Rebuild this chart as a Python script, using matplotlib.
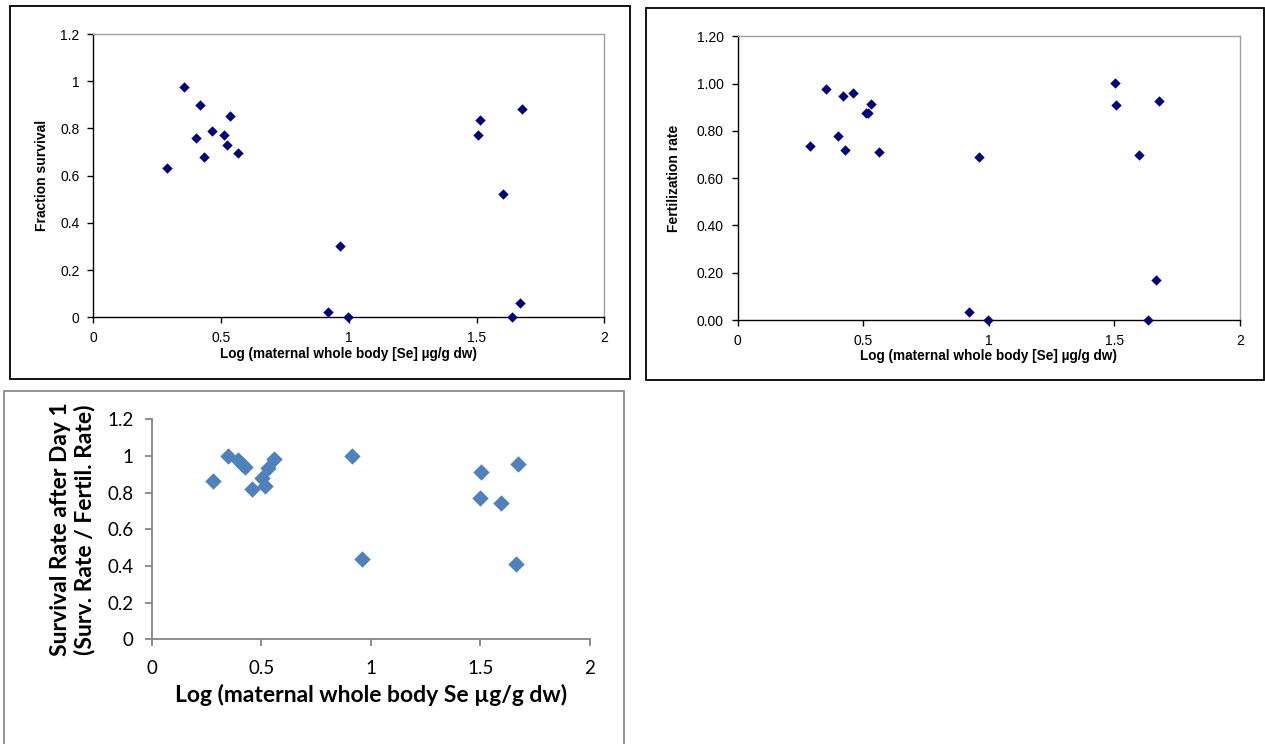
import matplotlib
matplotlib.use("Agg")
import matplotlib.pyplot as plt
from matplotlib.patches import Rectangle
from matplotlib.ticker import FixedLocator

W, H = 1265, 744

# ---- data: panel 1 (fraction survival) ----
surv_x = [0.354, 0.419, 0.536, 0.464, 0.510, 0.403, 0.524, 0.566, 0.434, 0.287,
          0.964, 0.920, 0.995, 1.512, 1.507, 1.679, 1.602, 1.670, 1.639]
surv_y = [0.976, 0.899, 0.854, 0.791, 0.774, 0.758, 0.730, 0.697, 0.680, 0.631,
          0.304, 0.024, 0.000, 0.834, 0.774, 0.882, 0.522, 0.062, 0.000]

# ---- data: panel 2 (fertilization rate) ----
fert_x = [0.352, 0.418, 0.459, 0.532, 0.511, 0.520, 0.398, 0.287, 0.429, 0.561,
          0.962, 0.922, 0.995, 1.502, 1.508, 1.676, 1.599, 1.667, 1.635]
fert_y = [0.979, 0.946, 0.959, 0.914, 0.876, 0.876, 0.779, 0.735, 0.719, 0.712,
          0.691, 0.032, 0.000, 1.001, 0.908, 0.925, 0.697, 0.169, 0.000]

# ---- data: panel 3 (survival after day 1) ----
day1_x = [0.347, 0.392, 0.411, 0.426, 0.558, 0.529, 0.281, 0.505, 0.517, 0.456,
          0.916, 0.961, 1.503, 1.498, 1.594, 1.670, 1.661]
day1_y = [1.000, 0.978, 0.955, 0.942, 0.985, 0.936, 0.864, 0.878, 0.836, 0.822,
          1.000, 0.436, 0.913, 0.771, 0.742, 0.956, 0.413]

x_ticks = [0, 0.5, 1, 1.5, 2]
x_tick_labels = ["0", "0.5", "1", "1.5", "2"]
y_ticks = [0, 0.2, 0.4, 0.6, 0.8, 1.0, 1.2]
y_labels_a = ["0", "0.2", "0.4", "0.6", "0.8", "1", "1.2"]
y_labels_b = ["0.00", "0.20", "0.40", "0.60", "0.80", "1.00", "1.20"]

xlabel_a = "Log (maternal whole body [Se] µg/g dw)"
xlabel_c = "Log (maternal whole body Se µg/g dw)"
ylabel_1 = "Fraction survival"
ylabel_2 = "Fertilization rate"
ylabel_3 = "Survival Rate after Day 1\n(Surv. Rate / Fertil. Rate)"

fig = plt.figure(figsize=(W / 100, H / 100), dpi=100)
fig.patch.set_facecolor("white")


def rect(x0, x1, yt, yb):
    return [x0 / W, 1 - yb / H, (x1 - x0) / W, (yb - yt) / H]


def frame(x0, y0, x1, y1, color, lw):
    fig.add_artist(Rectangle((x0 / W, 1 - y1 / H), (x1 - x0) / W, (y1 - y0) / H,
                             transform=fig.transFigure, fill=False,
                             edgecolor=color, linewidth=lw))


# outer frames
frame(10, 6, 630, 379, "black", 1.3)
frame(646, 8, 1264, 380, "black", 1.3)
frame(4, 391, 624, 770, "#8c8c8c", 1.3)

arial = "Liberation Sans"
calib = "Lato"


def excel_old(ax, xs, ys, ylabels, ylabel, lx):
    ax.scatter(xs, ys, marker="D", s=28, color="#000080", linewidths=0, zorder=3,
               clip_on=False)
    ax.set_xlim(0, 2)
    ax.set_ylim(0, 1.2)
    ax.xaxis.set_major_locator(FixedLocator(x_ticks))
    ax.yaxis.set_major_locator(FixedLocator(y_ticks))
    ax.set_xticklabels(x_tick_labels, fontfamily=arial, fontsize=10)
    ax.set_yticklabels(ylabels, fontfamily=arial, fontsize=10)
    for s in ["top", "right"]:
        ax.spines[s].set_color("#a0a0a0")
        ax.spines[s].set_linewidth(1.0)
    for s in ["left", "bottom"]:
        ax.spines[s].set_color("black")
        ax.spines[s].set_linewidth(1.0)
    ax.tick_params(direction="out", length=4, width=1, colors="black",
                   pad=6)
    ax.tick_params(axis="x", pad=6)
    ax.set_xlabel(xlabel_a, fontfamily=arial, fontsize=9.8, fontweight="bold",
                  labelpad=1)
    ax.set_ylabel(ylabel, fontfamily=arial, fontsize=10, fontweight="bold")
    ax.yaxis.set_label_coords(lx, 0.5)


ax1 = fig.add_axes(rect(93.3, 604.3, 34, 317.3))
excel_old(ax1, surv_x, surv_y, y_labels_a, ylabel_1, -0.087)

ax2 = fig.add_axes(rect(737.7, 1240, 36.3, 320))
excel_old(ax2, fert_x, fert_y, y_labels_b, ylabel_2, -0.113)

ax3 = fig.add_axes(rect(151.7, 590, 419.3, 639.3))
ax3.scatter(day1_x, day1_y, marker="D", s=70, color="#4F81BD", linewidths=0,
            zorder=3, clip_on=False)
ax3.set_xlim(0, 2)
ax3.set_ylim(0, 1.2)
ax3.xaxis.set_major_locator(FixedLocator(x_ticks))
ax3.yaxis.set_major_locator(FixedLocator(y_ticks))
ax3.set_xticklabels(x_tick_labels, fontfamily=calib, fontsize=13.5)
ax3.set_yticklabels(y_labels_a, fontfamily=calib, fontsize=13.5)
for s in ["top", "right"]:
    ax3.spines[s].set_visible(False)
for s in ["left", "bottom"]:
    ax3.spines[s].set_color("#868686")
    ax3.spines[s].set_linewidth(1.3)
ax3.tick_params(direction="out", length=5, width=1.3, color="#868686",
                labelcolor="black", pad=8)
ax3.tick_params(axis="x", pad=10)
ax3.set_xlabel(xlabel_c, fontfamily=calib, fontsize=16.5, fontweight="bold",
               labelpad=5)
ax3.set_ylabel(ylabel_3, fontfamily=calib, fontsize=16.5, fontweight="bold",
               linespacing=1.15)
ax3.yaxis.set_label_coords(-0.128, 0.5)

fig.savefig("out.png", dpi=100, facecolor="white")
